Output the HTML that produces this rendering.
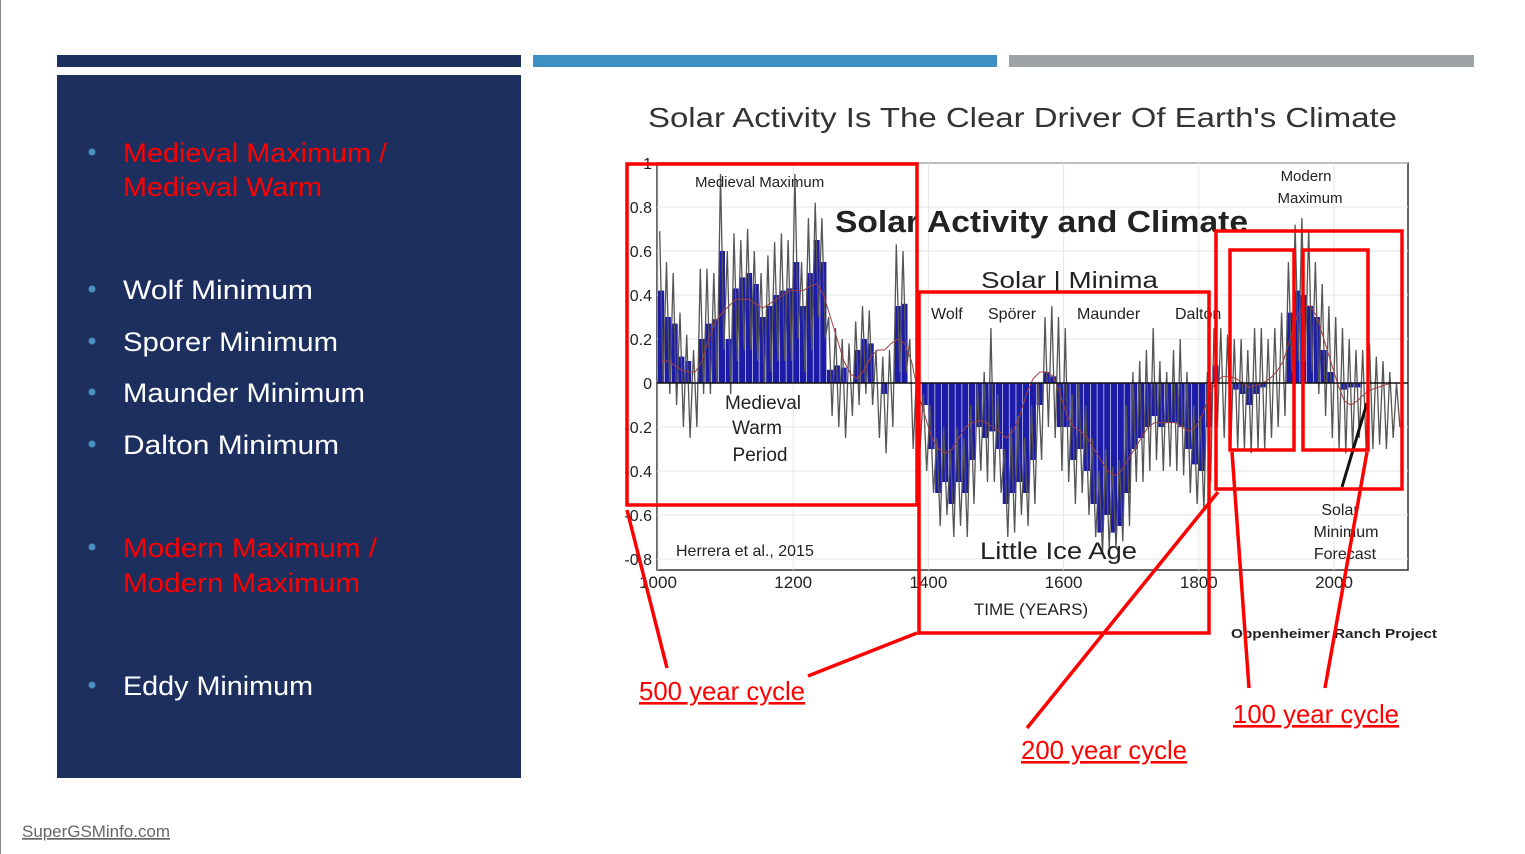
<!DOCTYPE html>
<html><head><meta charset="utf-8"><style>
html,body{margin:0;padding:0;background:#fff;}
svg{display:block;}
text{font-family:"Liberation Sans",sans-serif;}
</style></head><body>
<svg id="slide" width="1525" height="854" viewBox="0 0 1525 854" xmlns="http://www.w3.org/2000/svg">
<rect x="0" y="0" width="1525" height="854" fill="#fff"/>
<line x1="0.5" y1="0" x2="0.5" y2="854" stroke="#888" stroke-width="1"/>
<rect x="57" y="55" width="464" height="12" fill="#1c2f5e"/>
<rect x="533" y="55" width="464" height="12" fill="#3d8fc4"/>
<rect x="1009" y="55" width="465" height="12" fill="#9ea3a8"/>
<rect x="57" y="75" width="464" height="703" fill="#1c2f5e"/>
<g font-size="27">
 <circle cx="92" cy="152" r="3.5" fill="#4a90c0"/><circle cx="92" cy="289" r="3.5" fill="#4a90c0"/><circle cx="92" cy="341" r="3.5" fill="#4a90c0"/><circle cx="92" cy="392" r="3.5" fill="#4a90c0"/><circle cx="92" cy="444" r="3.5" fill="#4a90c0"/><circle cx="92" cy="547" r="3.5" fill="#4a90c0"/><circle cx="92" cy="685" r="3.5" fill="#4a90c0"/>
 <text x="123" y="162" fill="#ff0000" textLength="264" lengthAdjust="spacingAndGlyphs">Medieval Maximum /</text>
 <text x="123" y="196" fill="#ff0000" textLength="199" lengthAdjust="spacingAndGlyphs">Medieval Warm</text>
 <text x="123" y="299" fill="#fff" textLength="190" lengthAdjust="spacingAndGlyphs">Wolf Minimum</text>
 <text x="123" y="351" fill="#fff" textLength="215" lengthAdjust="spacingAndGlyphs">Sporer Minimum</text>
 <text x="123" y="402" fill="#fff" textLength="242" lengthAdjust="spacingAndGlyphs">Maunder Minimum</text>
 <text x="123" y="454" fill="#fff" textLength="216" lengthAdjust="spacingAndGlyphs">Dalton Minimum</text>
 <text x="123" y="557" fill="#ff0000" textLength="254" lengthAdjust="spacingAndGlyphs">Modern Maximum /</text>
 <text x="123" y="592" fill="#ff0000" textLength="237" lengthAdjust="spacingAndGlyphs">Modern Maximum</text>
 <text x="123" y="695" fill="#fff" textLength="190" lengthAdjust="spacingAndGlyphs">Eddy Minimum</text>
</g>
<text x="648" y="127" font-size="28" fill="#333" textLength="749" lengthAdjust="spacingAndGlyphs">Solar Activity Is The Clear Driver Of Earth's Climate</text>
<g id="chart"></g>
<text x="22" y="837" font-size="17" fill="#666" text-decoration="underline" textLength="148" lengthAdjust="spacingAndGlyphs">SuperGSMinfo.com</text>
</svg>
<script>
const years = [1000,1010,1020,1030,1040,1050,1060,1070,1080,1090,1100,1110,1120,1130,1140,1150,1160,1170,1180,1190,1200,1210,1220,1230,1240,1250,1260,1270,1280,1290,1300,1310,1320,1330,1340,1350,1360,1370,1380,1390,1400,1410,1420,1430,1440,1450,1460,1470,1480,1490,1500,1510,1520,1530,1540,1550,1560,1570,1580,1590,1600,1610,1620,1630,1640,1650,1660,1670,1680,1690,1700,1710,1720,1730,1740,1750,1760,1770,1780,1790,1800,1810,1820,1830,1840,1850,1860,1870,1880,1890,1900,1910,1920,1930,1940,1950,1960,1970,1980,1990,2000,2010,2020,2030,2040,2050,2060,2070,2080,2090];
const barValues = [0.42,0.3,0.27,0.12,0.1,0.0,0.2,0.27,0.29,0.6,0.2,0.43,0.48,0.5,0.45,0.3,0.35,0.4,0.42,0.43,0.55,0.35,0.5,0.65,0.55,0.06,0.08,0.07,0.0,0.15,0.2,0.18,0.0,-0.05,0.0,0.35,0.36,0.0,0.0,-0.1,-0.3,-0.5,-0.45,-0.55,-0.45,-0.5,-0.35,-0.2,-0.25,-0.22,-0.3,-0.55,-0.5,-0.45,-0.5,-0.35,-0.1,0.05,0.03,-0.2,-0.2,-0.35,-0.3,-0.4,-0.55,-0.68,-0.6,-0.68,-0.65,-0.5,-0.3,-0.25,-0.2,-0.15,-0.2,-0.18,-0.18,-0.2,-0.3,-0.37,-0.4,-0.2,0.08,0.0,0.0,-0.03,-0.05,-0.1,-0.05,-0.02,0.0,0.0,0.0,0.32,0.42,0.4,0.35,0.3,0.15,0.05,0.0,-0.03,-0.02,-0.02,0,0,0,0,0,0];
const cycleMax = [0.69,0.55,0.5,0.32,0.22,0.15,0.52,0.52,0.5,0.95,0.6,0.68,0.65,0.7,0.6,0.5,0.58,0.64,0.68,0.65,0.95,0.55,0.75,0.82,0.75,0.3,0.25,0.2,0.18,0.28,0.35,0.33,0.15,0.12,0.15,0.63,0.6,0.2,0.05,-0.05,-0.1,-0.25,-0.2,-0.3,-0.2,-0.25,-0.1,0.0,0.05,0.25,-0.05,-0.3,-0.2,-0.15,-0.25,-0.1,0.0,0.3,0.35,0.3,0.25,-0.05,0.0,-0.1,-0.25,-0.4,-0.3,-0.38,-0.35,-0.1,0.05,0.1,0.15,0.25,0.1,0.05,0.15,0.2,0.05,-0.1,-0.15,0.05,0.25,0.25,0.22,0.2,0.2,0.15,0.25,0.25,0.2,0.25,0.32,0.55,0.72,0.75,0.7,0.55,0.45,0.35,0.3,0.25,0.2,0.15,0.15,0.18,0.12,0.1,0.05,0.0];
const cycleMin = [0.0,-0.05,-0.1,-0.2,-0.25,-0.2,-0.05,-0.05,0.0,0.15,-0.05,0.1,0.15,0.15,0.1,0.0,0.05,0.1,0.1,0.1,0.2,0.05,0.15,0.3,0.2,-0.15,-0.2,-0.25,-0.15,-0.1,-0.05,-0.1,-0.25,-0.32,-0.2,0.05,0.05,-0.3,-0.3,-0.4,-0.5,-0.65,-0.6,-0.7,-0.65,-0.7,-0.55,-0.4,-0.45,-0.45,-0.5,-0.7,-0.68,-0.6,-0.65,-0.55,-0.35,-0.2,-0.25,-0.4,-0.45,-0.55,-0.5,-0.6,-0.7,-0.78,-0.75,-0.75,-0.72,-0.65,-0.45,-0.45,-0.4,-0.35,-0.4,-0.38,-0.4,-0.42,-0.5,-0.55,-0.58,-0.45,-0.2,-0.25,-0.28,-0.3,-0.3,-0.32,-0.3,-0.3,-0.25,-0.2,-0.15,0.05,0.1,0.1,0.05,-0.05,-0.15,-0.25,-0.3,-0.32,-0.3,-0.25,-0.3,-0.3,-0.28,-0.3,-0.25,-0.2];
const smoothLine = [0.1,0.1,0.08,0.06,0.05,0.05,0.1,0.2,0.28,0.32,0.35,0.38,0.38,0.38,0.36,0.34,0.36,0.38,0.4,0.42,0.42,0.42,0.44,0.45,0.4,0.3,0.2,0.1,0.04,0.02,0.06,0.12,0.15,0.15,0.18,0.2,0.18,0.1,-0.05,-0.15,-0.25,-0.3,-0.32,-0.3,-0.25,-0.2,-0.18,-0.17,-0.18,-0.2,-0.22,-0.25,-0.22,-0.15,-0.05,0.02,0.05,0.05,0.03,-0.05,-0.15,-0.2,-0.22,-0.25,-0.3,-0.35,-0.4,-0.42,-0.4,-0.35,-0.3,-0.25,-0.2,-0.18,-0.18,-0.18,-0.18,-0.2,-0.22,-0.2,-0.15,-0.05,0.0,0.03,0.03,0.02,0.0,-0.02,-0.01,0.0,0.02,0.05,0.1,0.2,0.3,0.35,0.35,0.3,0.2,0.1,0.0,-0.08,-0.1,-0.08,-0.05,-0.03,-0.02,-0.01,0,0];
const yTicks = [1,0.8,0.6,0.4,0.2,0,-0.2,-0.4,-0.6,-0.8];
const yTickLabels = ["1","0.8","0.6","0.4","0.2","0","-0.2","-0.4","-0.6","-0.8"];
const xTicks = [1000,1200,1400,1600,1800,2000];

const NS = "http://www.w3.org/2000/svg";
const chart = document.getElementById('chart');
const X0 = 658, PXY = 0.676, Y0 = 383, PXV = 220;
function xs(yr){ return X0 + (yr - 1000) * PXY; }
function ys(v){ return Y0 - v * PXV; }
function mk(tag, attrs, parent){ const e = document.createElementNS(NS, tag); for (const k in attrs) e.setAttribute(k, attrs[k]); (parent || chart).appendChild(e); return e; }

const plotL = 657, plotR = 1408, plotT = 163, plotB = 570;
const bg = mk('rect', {x: plotL, y: plotT, width: plotR - plotL, height: plotB - plotT, fill: '#fff', stroke: '#333', 'stroke-width': 1.5});



yTicks.forEach((t, i) => {
  const g = mk('line', {x1: plotL, x2: plotR, y1: ys(t), y2: ys(t), stroke: '#e6e6e6', 'stroke-width': 1});
  
  
  const lb = mk('text', {x: 652, y: ys(t) + 6, 'font-size': 16, fill: '#222', 'text-anchor': 'end'});
  lb.textContent = yTickLabels[i];
  
  
});
xTicks.forEach(t => {
  const g = mk('line', {x1: xs(t), x2: xs(t), y1: plotT, y2: plotB, stroke: '#e6e6e6', 'stroke-width': 1});
  
  
  const lb = mk('text', {x: xs(t), y: 588, 'font-size': 17, fill: '#222', 'text-anchor': 'middle'});
  lb.textContent = String(t);
  
  
});

const n = Math.min(years.length, barValues.length);
for (let i = 0; i < n; i++) {
  const v = barValues[i];
  if (v === 0) continue;
  const b = mk('rect', {x: xs(years[i]), y: Math.min(ys(v), Y0), width: 10 * PXY - 0.6, height: Math.abs(ys(v) - Y0), fill: '#1c1ca8'});
  
  
}
let pts = [];
const m = Math.min(years.length, cycleMax.length, cycleMin.length);
for (let i = 0; i < m; i++) {
  pts.push(xs(years[i] + 2.5).toFixed(1) + ',' + ys(cycleMax[i]).toFixed(1));
  pts.push(xs(years[i] + 7.5).toFixed(1) + ',' + ys(cycleMin[i]).toFixed(1));
}
const ln = mk('polyline', {points: pts.join(' '), fill: 'none', stroke: '#555', 'stroke-width': 1.3});


let sp = [];
for (let i = 0; i < Math.min(years.length, smoothLine.length); i++) sp.push(xs(years[i] + 5).toFixed(1) + ',' + ys(smoothLine[i]).toFixed(1));
const sl = mk('polyline', {points: sp.join(' '), fill: 'none', stroke: '#a04040', 'stroke-width': 1});


const zl = mk('line', {x1: plotL, x2: plotR, y1: Y0, y2: Y0, stroke: '#111', 'stroke-width': 1.5});



function label(txt, x, y, size, opts, name){
  const t = mk('text', Object.assign({x: x, y: y, 'font-size': size, fill: '#222'}, opts || {}));
  t.textContent = txt;
  
  
  return t;
}
label('Medieval Maximum', 695, 187, 15, {}, 'medieval-maximum-label');
label('Solar Activity and Climate', 835, 232, 31, {'font-weight': 'bold', textLength: 413, lengthAdjust: 'spacingAndGlyphs'}, 'inner-title');
label('Solar | Minima', 981, 288, 23, {textLength: 177, lengthAdjust: 'spacingAndGlyphs'}, 'solar-minima-label');
label('Wolf', 931, 319, 16, {}, 'wolf-label');
label('Spörer', 988, 319, 16, {}, 'sporer-label');
label('Maunder', 1077, 319, 16, {}, 'maunder-label');
label('Dalton', 1175, 319, 16, {}, 'dalton-label');
label('Medieval', 763, 409, 19, {'text-anchor': 'middle'}, 'mwp-label-1');
label('Warm', 757, 434, 19, {'text-anchor': 'middle'}, 'mwp-label-2');
label('Period', 760, 461, 19, {'text-anchor': 'middle'}, 'mwp-label-3');
label('Little Ice Age', 980, 559, 24, {textLength: 157, lengthAdjust: 'spacingAndGlyphs'}, 'little-ice-age-label');
label('Herrera et al., 2015', 676, 556, 16, {}, 'citation-label');
label('Modern', 1306, 181, 15, {'text-anchor': 'middle'}, 'modern-maximum-label-1');
label('Maximum', 1310, 203, 15, {'text-anchor': 'middle'}, 'modern-maximum-label-2');
label('Solar', 1340, 515, 16, {'text-anchor': 'middle'}, 'forecast-label-1');
label('Minimum', 1346, 537, 16, {'text-anchor': 'middle'}, 'forecast-label-2');
label('Forecast', 1345, 559, 16, {'text-anchor': 'middle'}, 'forecast-label-3');
label('TIME (YEARS)', 1031, 615, 17, {'text-anchor': 'middle'}, 'x-axis-title');
label('Oppenheimer Ranch Project', 1231, 638, 13, {'font-weight': 'bold', textLength: 206, lengthAdjust: 'spacingAndGlyphs'}, 'credit-label');

const arrow = mk('line', {x1: 1342, y1: 487, x2: 1367, y2: 403, stroke: '#111', 'stroke-width': 3});



const red = {fill: 'none', stroke: '#ff0000', 'stroke-width': 3.5};
[[627,164,290,341,'box-500-year'],[919,292,290,341,'box-200-year'],[1216,231,186,258,'box-modern'],[1230,250,64,200,'box-100-year-a'],[1303,250,65,200,'box-100-year-b']].forEach(b => {
  const r = mk('rect', Object.assign({x: b[0], y: b[1], width: b[2], height: b[3]}, red));
  
  
});
[[627,510,667,668],[917,633,808,676],[1218,492,1027,728],[1232,452,1249,688],[1367,452,1325,688]].forEach(l => {
  const e = mk('line', {x1: l[0], y1: l[1], x2: l[2], y2: l[3], stroke: '#ff0000', 'stroke-width': 3.5});
  
  
});
[['500 year cycle',639,700,'label-500-year-cycle'],['200 year cycle',1021,759,'label-200-year-cycle'],['100 year cycle',1233,723,'label-100-year-cycle']].forEach(c => {
  const t = mk('text', {x: c[1], y: c[2], 'font-size': 26, fill: '#ff0000', 'text-decoration': 'underline', textLength: 166, lengthAdjust: 'spacingAndGlyphs'});
  t.textContent = c[0];
  
  
});
</script>
</body></html>
